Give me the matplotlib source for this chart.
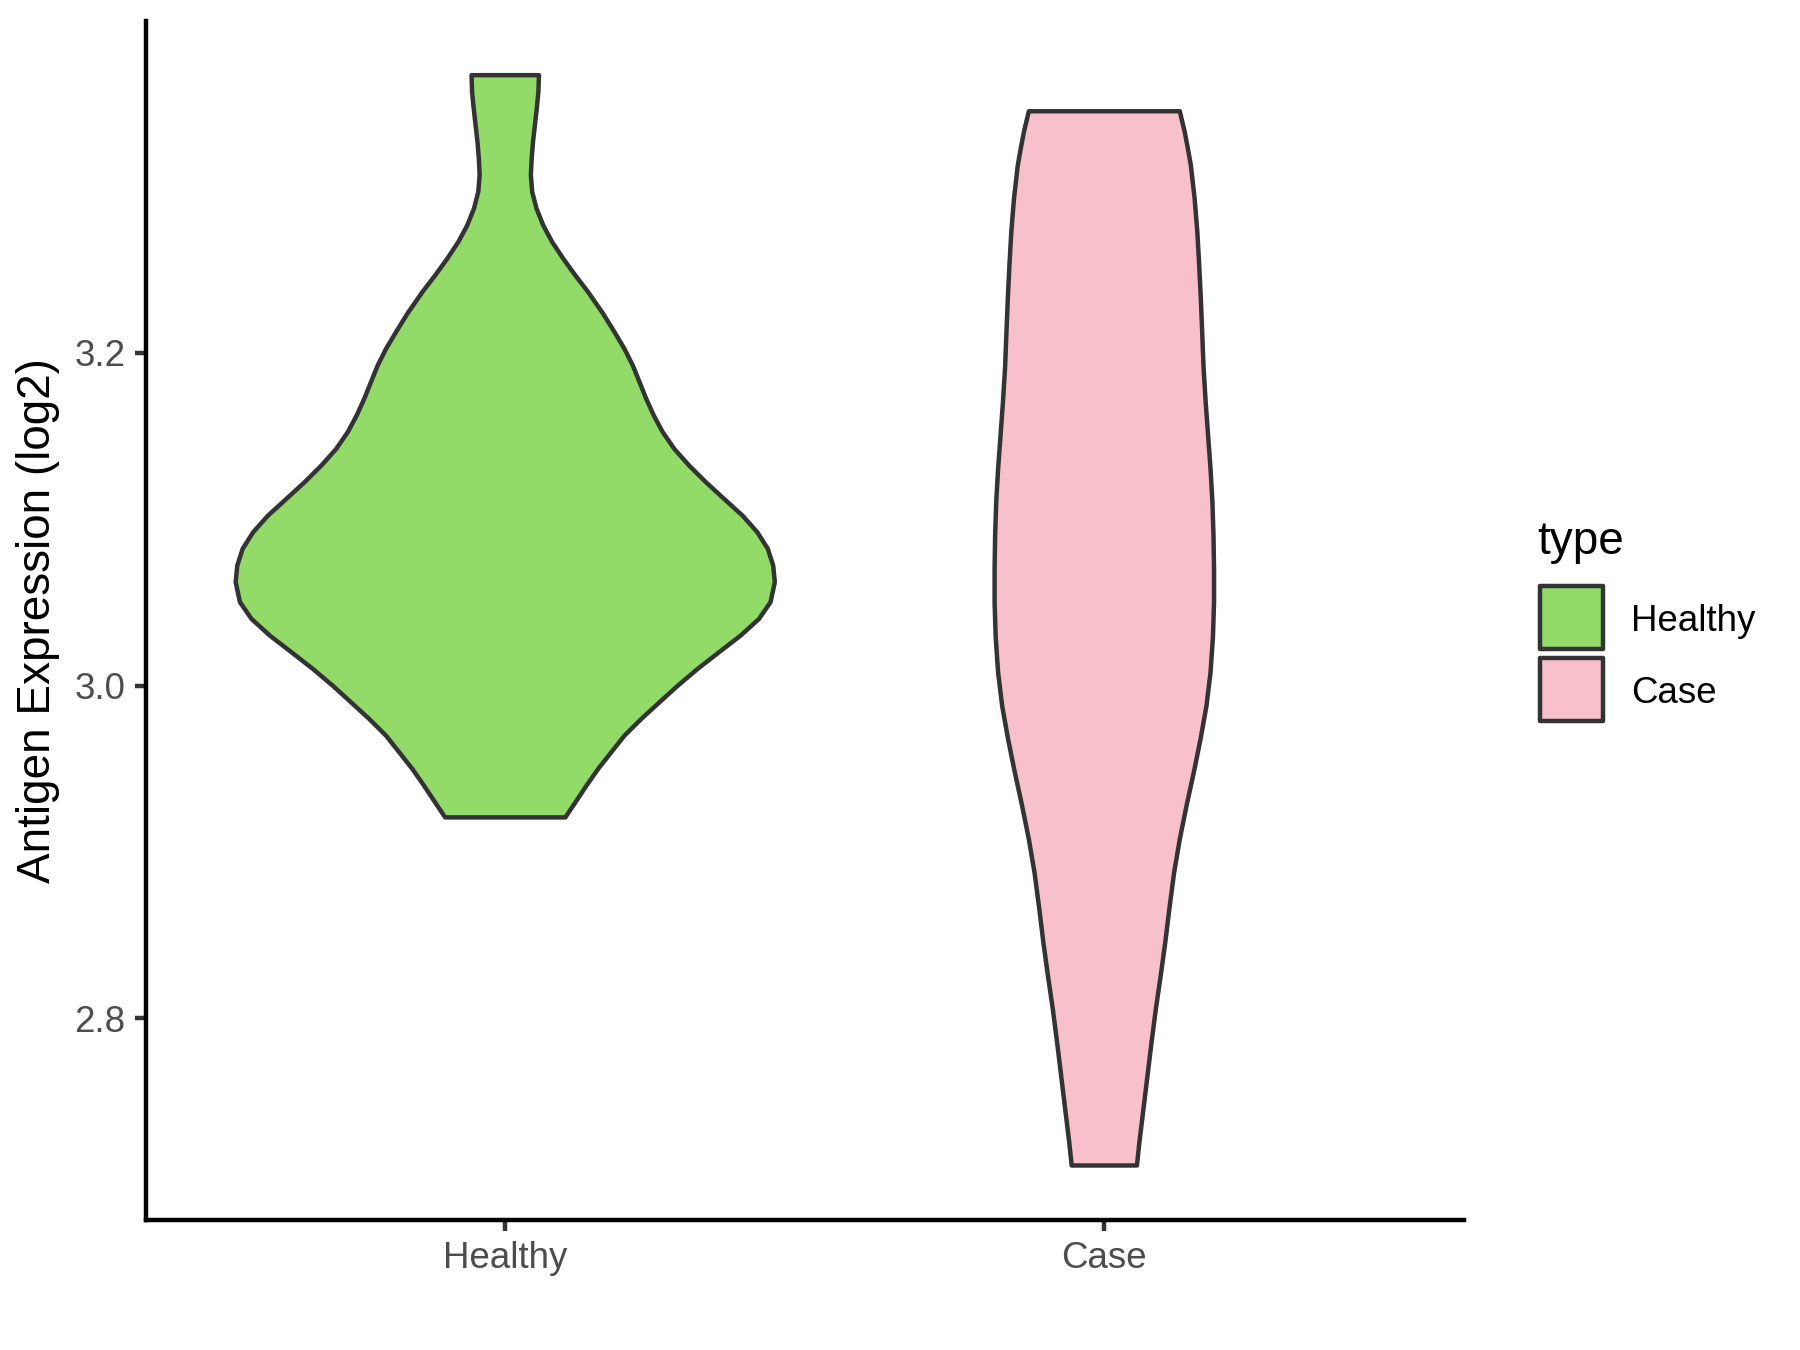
import matplotlib
matplotlib.use("Agg")
import matplotlib.pyplot as plt
from matplotlib.patches import Rectangle
import numpy as np

plt.rcParams['font.family'] = ['Liberation Sans', 'DejaVu Sans']

# groups and colours
groups = ["Healthy", "Case"]
fills = ["#93DB69", "#F7C0CA"]

# violin outlines: value and relative density (1 = widest)
healthy_y = [3.3670, 3.3570, 3.3470, 3.3369, 3.3269, 3.3169, 3.3068, 3.2968,
             3.2868, 3.2767, 3.2667, 3.2567, 3.2466, 3.2367, 3.2236, 3.2126,
             3.2025, 3.1925, 3.1825, 3.1724, 3.1624, 3.1524, 3.1423, 3.1323,
             3.1223, 3.1122, 3.1022, 3.0922, 3.0822, 3.0721, 3.0621, 3.0501,
             3.0400, 3.0300, 3.0200, 3.0099, 2.9999, 2.9899, 2.9798, 2.9698,
             2.9598, 2.9497, 2.9397, 2.9297, 2.9207]
healthy_dens = [0.125, 0.123, 0.117, 0.110, 0.103, 0.098, 0.095, 0.100,
                0.116, 0.141, 0.174, 0.215, 0.260, 0.307, 0.363, 0.405,
                0.442, 0.473, 0.498, 0.523, 0.551, 0.584, 0.627, 0.682,
                0.744, 0.812, 0.880, 0.935, 0.974, 0.994, 1.000, 0.984,
                0.941, 0.873, 0.793, 0.713, 0.640, 0.572, 0.504, 0.442,
                0.393, 0.344, 0.301, 0.260, 0.223]

case_y = [3.3453, 3.3330, 3.3229, 3.3128, 3.2928, 3.2728, 3.2527, 3.2326,
          3.2126, 3.1917, 3.1704, 3.1503, 3.1303, 3.1103, 3.0902, 3.0701,
          3.0501, 3.0292, 3.0079, 2.9878, 2.9678, 2.9478, 2.9277, 2.9076,
          2.8876, 2.8667, 2.8454, 2.8253, 2.8053, 2.7852, 2.7652, 2.7451,
          2.7251, 2.7114]
case_dens = [0.280, 0.298, 0.310, 0.321, 0.335, 0.345, 0.352, 0.358,
             0.363, 0.368, 0.376, 0.385, 0.394, 0.401, 0.405, 0.407,
             0.407, 0.403, 0.394, 0.379, 0.357, 0.332, 0.305, 0.280,
             0.259, 0.242, 0.226, 0.209, 0.191, 0.175, 0.160, 0.145,
             0.130, 0.121]

ylabel = "Antigen Expression (log2)"
yticks = [2.8, 3.0, 3.2]
legend_title = "type"

profiles = [(healthy_y, healthy_dens), (case_y, case_dens)]

fig = plt.figure(figsize=(6, 4.5), dpi=300)
ax = fig.add_axes([0.081, 0.0963, 0.8132 - 0.081, 0.9847 - 0.0963])

edge = "#333333"
lw = 1.07
for i, (yy, dd) in enumerate(profiles):
    yy = np.asarray(yy)
    hw = np.asarray(dd) * 0.45
    xs = np.concatenate([i + 1 + hw, (i + 1 - hw)[::-1]])
    ys = np.concatenate([yy, yy[::-1]])
    ax.fill(xs, ys, facecolor=fills[i], edgecolor=edge, linewidth=lw,
            joinstyle='round')

allv = np.concatenate([healthy_y, case_y])
lo, hi = allv.min(), allv.max()
pad = (hi - lo) * 0.05
ax.set_ylim(lo - pad, hi + pad)
ax.set_xlim(0.4, 2.6)

ax.set_xticks([1, 2])
ax.set_xticklabels(groups)
ax.set_yticks(yticks)
ax.set_yticklabels(["%.1f" % t for t in yticks])
ax.tick_params(axis='both', colors=edge, labelcolor="#4D4D4D", labelsize=8.8,
               length=2.75, width=lw, pad=2.2)

for s in ["top", "right"]:
    ax.spines[s].set_visible(False)
for s in ["left", "bottom"]:
    ax.spines[s].set_color("black")
    ax.spines[s].set_linewidth(lw)
    ax.spines[s].set_capstyle('projecting')

ax.set_ylabel(ylabel, fontsize=11, color="black", labelpad=3.3)

# legend, ggplot style
fig.text(0.8539, 0.5896, legend_title, fontsize=11, color="black",
         va="baseline", ha="left")
key_w, key_h, step = 0.035, 0.0468, 0.0529
for i, g in enumerate(groups):
    y0 = 0.5189 - i * step
    fig.add_artist(Rectangle((0.8556, y0), key_w, key_h, transform=fig.transFigure,
                             facecolor=fills[i], edgecolor=edge, linewidth=lw,
                             joinstyle='round'))
    fig.text(0.9061, y0 + key_h / 2, g, fontsize=8.8, color="black",
             va="center_baseline", ha="left")

fig.savefig("out.png", dpi=300)
